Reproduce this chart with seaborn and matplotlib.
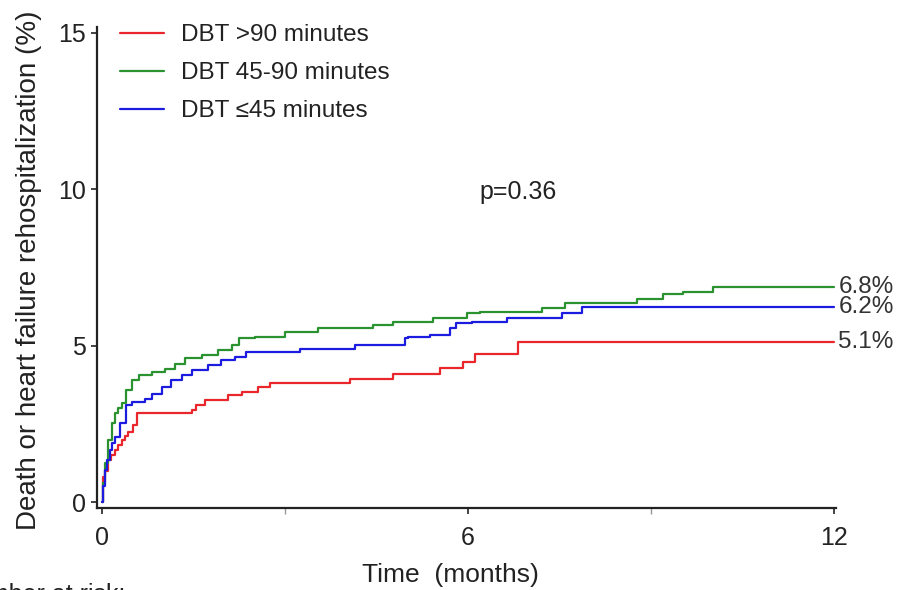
import matplotlib
matplotlib.use("Agg")
import matplotlib.pyplot as plt
import seaborn as sns
import pandas as pd
from matplotlib.ticker import MultipleLocator

# ---- data ----
groups = ["DBT >90 minutes", "DBT 45-90 minutes", "DBT \u226445 minutes"]

t_red = [0, 0.01, 0.05, 0.1, 0.15, 0.21, 0.27, 0.32, 0.38, 0.43, 0.51, 0.57, 1.48, 1.55, 1.69,
         2.07, 2.29, 2.56, 2.76, 4.07, 4.78, 5.55, 5.92, 6.12, 6.83, 12.0]
v_red = [0, 0.8, 1.0, 1.34, 1.5, 1.66, 1.82, 1.98, 2.1, 2.25, 2.46, 2.84, 2.94, 3.1, 3.26,
         3.42, 3.53, 3.69, 3.82, 3.95, 4.11, 4.3, 4.47, 4.75, 5.13, 5.13]

t_green = [0, 0.02, 0.05, 0.1, 0.16, 0.21, 0.27, 0.32, 0.4, 0.49, 0.6, 0.82, 1.03, 1.2, 1.36,
           1.64, 1.91, 2.13, 2.24, 2.51, 3.0, 3.55, 4.45, 4.78, 5.43, 5.99, 6.2, 7.22, 7.6,
           8.78, 9.2, 9.53, 10.02, 12.0]
v_green = [0, 0.6, 1.24, 1.98, 2.52, 2.84, 3.0, 3.16, 3.58, 3.9, 4.06, 4.17, 4.27, 4.43, 4.6,
           4.7, 4.86, 5.02, 5.23, 5.29, 5.45, 5.55, 5.66, 5.77, 5.87, 6.03, 6.09, 6.19, 6.37,
           6.48, 6.64, 6.73, 6.87, 6.87]

t_blue = [0, 0.02, 0.05, 0.09, 0.13, 0.17, 0.21, 0.3, 0.4, 0.49, 0.71, 0.82, 0.98, 1.14, 1.31,
          1.47, 1.74, 1.96, 2.18, 2.37, 3.25, 4.15, 4.97, 5.02, 5.38, 5.71, 5.8, 6.07, 6.64,
          7.55, 7.88, 12.0]
v_blue = [0, 0.5, 1.02, 1.35, 1.66, 1.9, 2.09, 2.52, 3.1, 3.2, 3.31, 3.47, 3.69, 3.9, 4.06,
          4.22, 4.38, 4.54, 4.65, 4.81, 4.91, 5.02, 5.23, 5.29, 5.34, 5.55, 5.71, 5.77, 5.87,
          6.05, 6.25, 6.25]

end_labels = ["5.1%", "6.8%", "6.2%"]
end_values = [5.13, 6.87, 6.24]
p_text = "p=0.36"
x_ticks = [0, 6, 12]
y_ticks = [0, 5, 10, 15]

colors = ["#e8262b", "#2b9230", "#1c1ce0"]

# ---- build frame ----
frames = []
for g, t, v in zip(groups, [t_red, t_green, t_blue], [v_red, v_green, v_blue]):
    frames.append(pd.DataFrame({"time": t, "risk": v, "group": g}))
df = pd.concat(frames, ignore_index=True)

sns.set_style("ticks")
plt.rcParams["font.family"] = ["Liberation Sans", "DejaVu Sans"]
txt = "#222222"

fig = plt.figure(figsize=(8.99, 5.90), dpi=100)
ax = fig.add_axes([97 / 899, 82 / 590, (836 - 97) / 899, (508 - 27) / 590])

sns.lineplot(data=df, x="time", y="risk", hue="group", hue_order=groups,
             palette=colors, estimator=None, sort=False, drawstyle="steps-post",
             linewidth=1.6, ax=ax, legend=True)

ax.set_xlim(-0.082, 12.04)
ax.set_ylim(-0.19, 15.19)
ax.set_xticks(x_ticks)
ax.set_yticks(y_ticks)
ax.xaxis.set_minor_locator(MultipleLocator(3))
ax.tick_params(axis="both", which="major", labelsize=18, colors=txt, length=4, width=1.2,
               direction="out")
ax.tick_params(axis="x", which="major", pad=9)
ax.tick_params(axis="y", which="major", pad=4)
ax.tick_params(axis="x", which="minor", length=4, width=1.0, color="#999999")
for s in ["top", "right"]:
    ax.spines[s].set_visible(False)
for s in ["left", "bottom"]:
    ax.spines[s].set_linewidth(1.6)
    ax.spines[s].set_color("#222222")

ax.set_xlabel("Time  (months)", fontsize=19, color=txt)
ax.set_ylabel("Death or heart failure rehospitalization (%)", fontsize=20, color=txt)
ax.xaxis.set_label_coords((450 - 97) / (836 - 97), -(563 - 508) / (508 - 27))
ax.yaxis.set_label_coords(-(97 - 42) / (836 - 97), (508 - 270) / (508 - 27))

for lab, val in zip(end_labels, end_values):
    ax.text(12.08, val, lab, fontsize=17.5, color="#333333", ha="left", va="center",
            clip_on=False)

ax.text(6.83, 9.9, p_text, fontsize=18, color=txt, ha="center", va="center")

handles, labels = ax.get_legend_handles_labels()
leg = ax.legend(handles, labels, loc="upper left",
                bbox_to_anchor=(120 / 899, (590 - 24) / 590),
                bbox_transform=fig.transFigure, frameon=False, fontsize=17.5,
                handlelength=1.8, handletextpad=0.7, labelspacing=0.66,
                borderpad=0, borderaxespad=0)
for t in leg.get_texts():
    t.set_color(txt)

fig.text(125 / 899, (590 - 583) / 590, "Number at risk:", fontsize=18, color=txt,
         ha="right", va="top")

fig.savefig("out.png", dpi=100)
